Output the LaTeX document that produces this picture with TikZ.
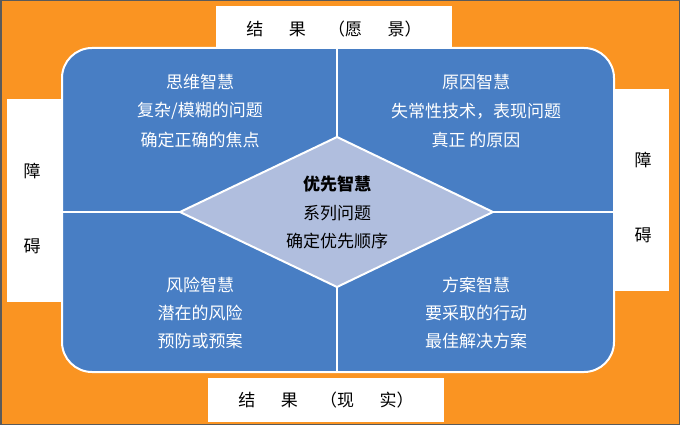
\documentclass[tikz,border=0pt]{standalone}
\usepackage{fontspec}
\setmainfont{Noto Sans CJK SC}
\definecolor{bgorange}{RGB}{250, 148, 34}
\definecolor{quadblue}{RGB}{72, 126, 196}
\definecolor{diamlav}{RGB}{176, 190, 222}
\definecolor{framegray}{RGB}{90, 90, 90}
\usepackage{tikz}
\usetikzlibrary{positioning, calc}

\tikzset{
  whitebox/.style={fill=white, draw=none, inner sep=0pt},
  quadtext/.style={text=white, font=\fontsize{17}{17}\selectfont, inner sep=0pt},
  bartext/.style={text=black, font=\fontsize{17}{17}\selectfont, inner sep=0pt}
}

\begin{document}
\begin{tikzpicture}[x=1pt, y=-1pt]
  % Background and frame
  \fill[bgorange] (0,0) rectangle (680,425);
  \useasboundingbox (0,0) rectangle (680,425);
  \draw[framegray, line width=1.5pt] (0.75,0.75) rectangle (679.25,424.25);

  % Outer white boxes
  \node[whitebox, minimum width=236pt, minimum height=46pt, bartext] (vision) at (334,29)
    {结\hspace{1.5em}果\hspace{1.3em}（愿\hspace{1.5em}景）};
  \node[whitebox, minimum width=236pt, minimum height=44pt, bartext] (reality) at (326,400)
    {结\hspace{1.5em}果\hspace{1.3em}（现\hspace{1.5em}实）};
  \node[whitebox, minimum width=62pt, minimum height=203pt] (leftbar) at (38,200.5) {};
  \node[whitebox, minimum width=62pt, minimum height=202pt] (rightbar) at (638,190) {};
  \node[bartext] (left1) at (32,171) {障};
  \node[bartext] (left2) at (32,246) {碍};
  \node[bartext] (right1) at (643,160) {障};
  \node[bartext] (right2) at (643,235) {碍};

  % Quadrant panel
  \draw[white, line width=2pt, fill=quadblue, rounded corners=30pt] (62,48) rectangle (614,372);
  \draw[white, line width=2pt] (337,48) -- (337,372);
  \draw[white, line width=2pt] (62,212) -- (614,212);

  % Centre diamond
  \draw[white, line width=2pt, fill=diamlav] (180,212) -- (337,137) -- (493,212) -- (337,287) -- cycle;

  % Quadrant texts
  \node[quadtext] (think) at (200,82) {思维智慧};
  \node[quadtext] (think1) at (200,111) {复杂/模糊的问题};
  \node[quadtext] (think2) at (200,140) {确定正确的焦点};

  \node[quadtext] (cause) at (476,82) {原因智慧};
  \node[quadtext] (cause1) at (476,111) {失常性技术，表现问题};
  \node[quadtext] (cause2) at (476,140) {真正 的原因};

  \node[quadtext] (risk) at (200,285) {风险智慧};
  \node[quadtext] (risk1) at (200,313) {潜在的风险};
  \node[quadtext] (risk2) at (200,341) {预防或预案};

  \node[quadtext] (plan) at (476,285) {方案智慧};
  \node[quadtext] (plan1) at (476,313) {要采取的行动};
  \node[quadtext] (plan2) at (476,341) {最佳解决方案};

  \node[bartext, font=\fontsize{17}{17}\selectfont\bfseries] (prio) at (337,184) {优先智慧};
  \node[bartext] (prio1) at (337,213) {系列问题};
  \node[bartext] (prio2) at (337,241) {确定优先顺序};
\end{tikzpicture}
\end{document}
